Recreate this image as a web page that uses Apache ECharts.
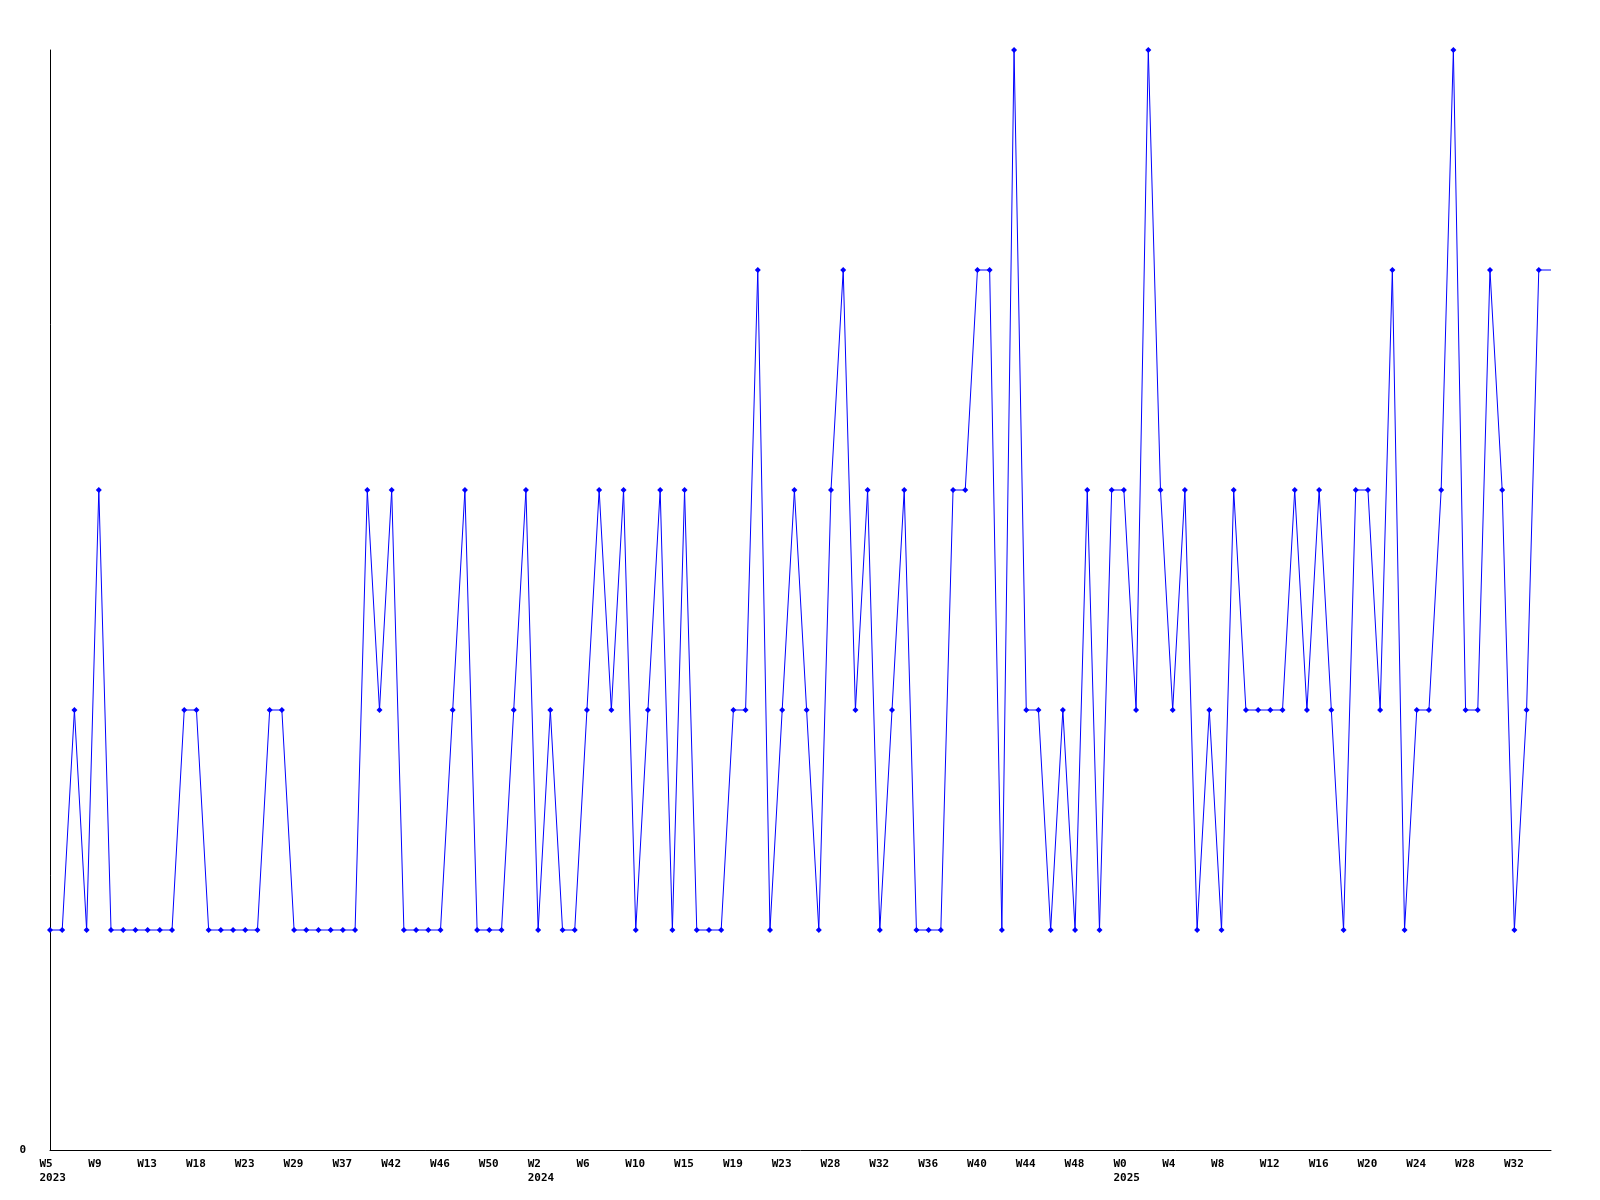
<!DOCTYPE html>
<html>
<head>
<meta charset="utf-8">
<script src="https://cdn.jsdelivr.net/npm/echarts@6/dist/echarts.min.js"></script>
<style>html,body{margin:0;padding:0;background:#fff}#c{width:1600px;height:1200px}</style>
</head>
<body>
<div id="c"></div>
<script>
const weeks = [
  'W5\n2023','W6','W7','W8',
  'W9','W10','W11','W12',
  'W13','W14','W15','W17',
  'W18','W19','W20','W22',
  'W23','W24','W26','W27',
  'W29','W31','W33','W35',
  'W37','W38','W39','W41',
  'W42','W43','W44','W45',
  'W46','W47','W48','W49',
  'W50','W51','W52','W1',
  'W2\n2024','W3','W4','W5',
  'W6','W7','W8','W9',
  'W10','W11','W12','W14',
  'W15','W16','W17','W18',
  'W19','W20','W21','W22',
  'W23','W25','W26','W27',
  'W28','W29','W30','W31',
  'W32','W33','W34','W35',
  'W36','W37','W38','W39',
  'W40','W41','W42','W43',
  'W44','W45','W46','W47',
  'W48','W49','W50','W51',
  'W0\n2025','W1','W2','W3',
  'W4','W5','W6','W7',
  'W8','W9','W10','W11',
  'W12','W13','W14','W15',
  'W16','W17','W18','W19',
  'W20','W21','W22','W23',
  'W24','W25','W26','W27',
  'W28','W29','W30','W31',
  'W32','W33','W34','W35'
];
const counts = [
  1,1,2,1, 3,1,1,1, 1,1,1,2, 2,1,1,1,
  1,1,2,2, 1,1,1,1, 1,1,3,2, 3,1,1,1,
  1,2,3,1, 1,1,2,3, 1,2,1,1, 2,3,2,3,
  1,2,3,1, 3,1,1,1, 2,2,4,1, 2,3,2,1,
  3,4,2,3, 1,2,3,1, 1,1,3,3, 4,4,1,5,
  2,2,1,2, 1,3,1,3, 3,2,5,3, 2,3,1,2,
  1,3,2,2, 2,2,3,2, 3,2,1,3, 3,2,4,1,
  2,2,3,5, 2,2,4,3, 1,2,4,4
];
const yTicks = [0];

const seriesData = counts.map((v, i) => i === counts.length - 1 ? {value: v, symbol: 'none'} : v);

const chart = echarts.init(document.getElementById('c'), null, {renderer: 'canvas'});
chart.setOption({
  animation: false,
  backgroundColor: '#ffffff',
  grid: {left: 50, top: 50, right: 49, bottom: 50, containLabel: false},
  xAxis: {
    type: 'category',
    data: weeks,
    boundaryGap: false,
    axisLine: {show: true, lineStyle: {color: '#000', width: 1}},
    axisTick: {show: false},
    splitLine: {show: false},
    axisLabel: {
      interval: 3,
      margin: 7,
      formatter: v => v.split('\n').map(s => '{a|' + s + '}').join('\n'),
      rich: {
        a: {width: 21, align: 'left', fontFamily: 'DejaVu Sans Mono', fontWeight: 'bold', fontSize: 11, lineHeight: 14, color: '#000'}
      }
    }
  },
  yAxis: {
    type: 'value',
    min: 0, max: 5, interval: 5,
    axisLine: {show: true, lineStyle: {color: '#000', width: 1}},
    axisTick: {show: false},
    splitLine: {show: false},
    axisLabel: {
      margin: 24,
      fontFamily: 'DejaVu Sans Mono', fontWeight: 'bold', fontSize: 11, color: '#000',
      formatter: v => yTicks.indexOf(v) >= 0 ? String(v) : ''
    }
  },
  series: [{
    type: 'line',
    data: seriesData,
    symbol: 'diamond',
    symbolSize: 6,
    showAllSymbol: true,
    lineStyle: {color: '#0000ff', width: 1},
    itemStyle: {color: '#0000ff'},
    emphasis: {disabled: true}
  }]
});
</script>
</body>
</html>
